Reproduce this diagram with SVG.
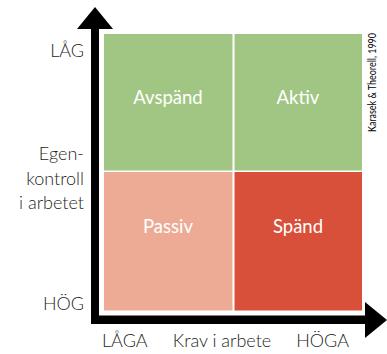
<svg xmlns="http://www.w3.org/2000/svg" width="387" height="354" viewBox="0 0 387 354">
<style>
.lbl{font-family:"Lato","Open Sans","Liberation Sans",sans-serif;font-size:18px;fill:#231f20;font-weight:300}
.cell{font-family:"Lato","Open Sans","Liberation Sans",sans-serif;font-size:18.5px;fill:#ffffff;text-anchor:middle}
.src{font-family:"Lato","Open Sans","Liberation Sans",sans-serif;font-size:11.5px;fill:#000000;font-weight:400}
</style>
<rect width="387" height="354" fill="#ffffff"/>
<g id="avspand"><rect x="104" y="34" width="128.5" height="136.5" fill="#a1c683"/><text class="cell" x="168" y="104">Avspänd</text></g>
<g id="aktiv"><rect x="234.5" y="34" width="127.5" height="136.5" fill="#a1c683"/><text class="cell" x="298" y="104">Aktiv</text></g>
<g id="passiv"><rect x="104" y="172" width="128.5" height="138.5" fill="#edab95"/><text class="cell" x="168" y="233">Passiv</text></g>
<g id="spand"><rect x="234.5" y="172" width="127.5" height="138.5" fill="#d8503a"/><text class="cell" x="298" y="233">Spänd</text></g>
<g id="axes">
<rect x="91" y="29" width="8" height="295" fill="#000"/>
<polygon points="77,29 113,29 95,7" fill="#000"/>
<rect x="91" y="315.5" width="275" height="8.5" fill="#000"/>
<polygon points="365,302 365,338 387,320" fill="#000"/>
</g>
<g id="labels">
<text class="lbl" x="84" y="57" text-anchor="end">LÅG</text>
<text class="lbl" x="84" y="160" text-anchor="end">Egen-</text>
<text class="lbl" x="84" y="185" text-anchor="end">kontroll</text>
<text class="lbl" x="84" y="209" text-anchor="end">i arbetet</text>
<text class="lbl" x="84" y="310" text-anchor="end">HÖG</text>
<text class="lbl" x="102" y="347">LÅGA</text>
<text class="lbl" x="222" y="347" text-anchor="middle">Krav i arbete</text>
<text class="lbl" x="349" y="347" text-anchor="end">HÖGA</text>
<text class="src" transform="translate(376,132) rotate(-90)" textLength="99" lengthAdjust="spacingAndGlyphs">Karasek &amp; Theorell, 1990</text>
</g>
</svg>
